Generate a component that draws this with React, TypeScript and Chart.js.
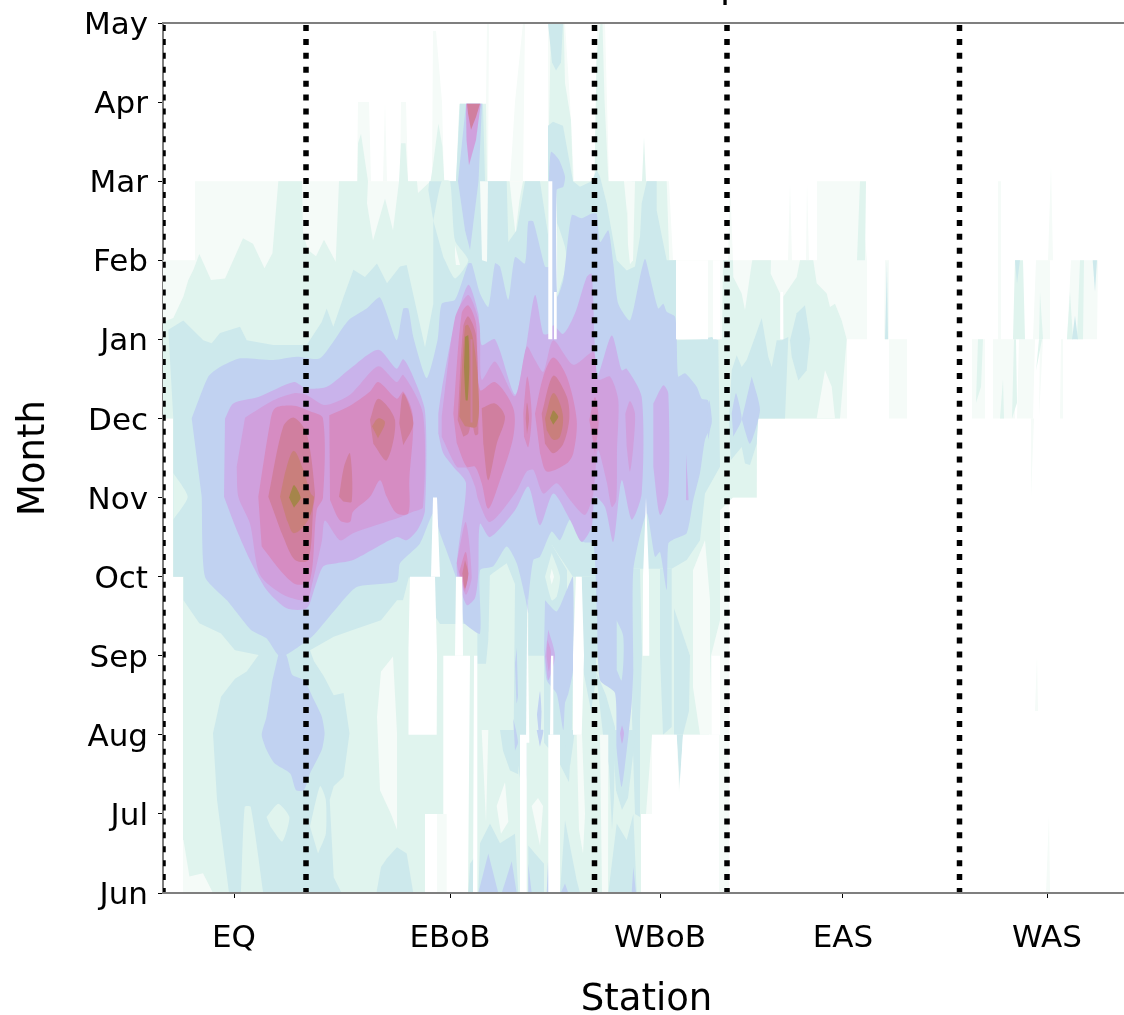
import React, { useEffect, useRef } from "react";
import { Chart, registerables } from "chart.js";

Chart.register(...registerables);

const months = ["Jun", "Jul", "Aug", "Sep", "Oct", "Nov", "Dec", "Jan", "Feb", "Mar", "Apr", "May"];
const stationLabels = ["EQ", "EBoB", "WBoB", "EAS", "WAS"];
const stationTicks = [7.1, 28.7, 49.7, 68, 88.4];
const regionBounds = [0, 14.3, 43.15, 56.4, 79.65];

const colorL1 = "#f5fbf8";
const colorL2 = "#e0f4ee";
const colorL3 = "#cde9ec";
const colorL4 = "#c1d2f1";
const colorL5 = "#c9b3eb";
const colorL6 = "#d0a0dd";
const colorL7 = "#d68cc2";
const colorL8 = "#d07f9f";
const colorL9 = "#c97f7c";
const colorL10 = "#a5854a";

// Contour regions: flat x,y lists, x in station number, y in months since June.
const level1 = [
  [2,0, 2,4, 1,4, 1,6, 0,6, 0,8, 3.2,8, 3.2,9, 50.6,9, 51,8, 56.5,8, 56.7,9, 57,8, 62.5,8, 62.7,9, 62.9,8, 64.3,8, 64.4,9, 64.6,8, 65.4,8, 65.4,9, 69.7,9, 70.4,8, 70.4,7, 68.4,7, 68.4,6, 59.4,6, 59.4,5, 56.6,5, 56.6,0],
  [19.4,9, 19.5,10, 20.6,10, 20.8,9], [22,9, 22.2,10, 22.4,9], [23.7,9, 23.8,10, 24.3,10, 24.5,9],
  [26.9,9, 27,10.9, 27.3,10.9, 27.9,10, 28.1,9], [32.2,9, 32.4,11, 32.6,11, 32.5,9],
  [34.7,9, 35.2,10, 36,11, 36.2,11, 36.1,10, 36,9], [38.5,9, 38.5,11, 40.2,11, 40.7,10, 41.1,9], [43.2,9, 43.4,11, 44.2,11, 44.6,9],
  [72.6,6, 72.6,7, 74.4,7, 74.4,6], [72.1,7, 72.2,8, 72.6,8, 72.6,7],
  [83.4,7, 83.5,9, 83.8,9, 83.8,7], [87,7, 87.3,8, 88.7,8, 88.7,7], [88.5,8, 88.8,9.2, 89,8], [90.4,7, 90.8,8, 93.5,8, 93.4,7],
  [80.9,6, 80.9,7, 82.2,7, 82.2,6], [83,6, 83,7, 85.2,7, 85.2,6], [85.4,6, 85.6,7, 87.2,7, 87,6], [87.6,6, 87.7,7, 88,7], [89.7,6, 89.8,7, 90,7, 90,6],
  [86.8,5, 86.8,6, 87.1,6], [87.2,2.3, 87.4,3, 87.5,2.3], [88.3,0, 88.6,1, 88.7,0],
];

const level2 = [
  [5,0, 4,0.25, 2.64,0.21, 2.05,0.67, 2,4, 1,4, 1,6, 0,6, 0,7.22, 1.03,7.27, 2.03,7.54, 2.53,7.75, 3.04,7.88, 3.63,8.08, 4.2,7.92, 4.8,7.75, 6.2,7.77, 7.2,8.05, 8,8.28, 9,8.21, 10.15,7.9, 10.94,8.09, 11.53,9, 13.9,9, 14,8.34, 14.5,8.13, 15.3,8.05, 16.1,8.26, 17.27,7.98, 17.6,9, 19.44,9, 19.5,9.48, 19.8,9.6, 20.5,9, 20.4,8.72, 21,8.25, 22.2,8.78, 23,8.38, 23.6,9, 23.8,9.48, 24.26,9.48, 24.5,9, 25.4,9, 25.5,8.85, 26.75,9, 26.95,9.16, 27.54,9.73, 27.94,9.44, 28.13,9, 29.3,9, 29.64,9.98, 32.3,9.98, 32.4,9, 34.66,9, 34.86,8.76, 35.25,8.34, 35.64,8.76, 36,9, 38.5,9, 38.6,9.73, 38.8,11, 40.07,11, 40.2,10.24, 40.8,9.77, 41,9, 43.15,9, 43.35,10.57, 43.75,11, 43.95,11, 44.15,10.03, 44.54,9, 46.1,9, 46.4,8.59, 46.9,9, 47.9,9, 48.1,9.56, 48.3,9, 50.37,9, 50.63,8, 51.3,8, 51.3,7, 55.9,7, 56,8, 57,8, 57.03,7.79, 57.87,7.58, 58.2,7.37, 58.87,7.96, 58.93,8, 60.8,8, 60.77,7.83, 61.7,7.58, 61.7,7, 62.03,7, 62.03,7.54, 63.37,7.79, 63.7,8, 65.03,8, 65.37,7.71, 66.37,7.58, 66.7,7.41, 67.2,7.45, 67.87,7.24, 68.37,7, 67.7,6, 59.4,6, 59.37,5, 57,5, 55.7,4.84, 55.7,3.45, 54.8,3, 54.6,2, 48.9,2, 48.3,1, 48,0],
  [70.2,8, 70.3,9, 69.7,9, 69.4,8], [85,7, 85.2,8, 86,8, 86.2,7], [87.6,7, 87.7,7.6, 88,7], [90.4,7, 90.7,7.6, 91,7], [91.4,7, 91.7,8, 92.1,8, 92,7], [83.7,6, 84,6.5, 84.1,6], [81.3,6.2, 81.5,7, 82,7, 81.8,6.4], [84.9,6, 85.1,7, 85.3,7, 85.4,6.2],
  [87.3,6.6, 87.6,7, 87.9,7],
];

const level3 = [
  [6.6,0, 5.4,1.18, 5,2.02, 5.8,2.48, 7.2,2.71, 8.37,2.8, 9.56,3.01, 7.2,3.07, 5.8,3.28, 3.63,3.41, 2.05,3.7, 2.05,4, 1.03,4, 1.03,6, 0.53,7.12, 2.03,7.24, 4.03,6.99, 4.87,6.95, 5.7,7.08, 7.7,7.16, 8.37,6.99, 11.03,6.93, 14.37,6.93, 15.87,7.22, 16.37,7.39, 17.03,7.16, 18.06,7.54, 19.04,7.88, 20.2,7.79, 21.4,7.96, 22.4,7.71, 23.7,7.92, 24.37,7.94, 25.37,7.37, 26.2,6.9, 27.03,7.45, 27.03,8.5, 26.53,8.89, 26.63,9, 29.3,9, 29.7,9.98, 32,9.98, 32.2,9, 34.37,9, 34.53,8.23, 35.37,8.38, 36.2,9, 37.7,9, 38.53,8.3, 38.5,9, 38.5,9.7, 39,9.75, 40,9.7, 41,9, 41.7,8.93, 42.87,9, 43.37,9.14, 43.7,9.06, 44.37,8.72, 45.37,8, 46.37,7.87, 47.2,7.92, 47.7,8.3, 47.87,8.72, 48.37,9, 49.37,9, 49.37,8.63, 50.37,8, 51.3,8, 51.3,7.5, 51.37,6.99, 53.7,7, 54.87,7.03, 55.53,6.99, 55.7,5.39, 54.2,5.05, 53.7,4.46, 52.37,4.21, 50.87,4.1, 47.03,4.1, 47,3, 43.3,3, 43.2,4, 41,4, 38.9,4.4, 36.53,3.7, 35.37,3.85, 34.37,4.17, 33.03,4.05, 32.53,4, 32.53,3.3, 31.43,3.3, 31,3.4, 27.7,3.4, 24.6,4, 24,3.7, 23.4,3.7, 21.8,3.45, 19.04,3.33, 17.07,3.24, 14.7,3.07, 15.1,2.93, 16.08,2.74, 17.07,2.5, 18.06,2.53, 18.65,2.02, 18.06,1.47, 17.07,1.35, 16.67,1.18, 17.07,0.2, 17.86,0],
  [38.5,11, 40,11, 39.8,10.5, 39.3,10.4, 38.9,10.5],
  [56.77,5.47, 56.6,6, 56.87,6.61, 57.37,6.8, 57.87,6.65, 58.37,6.74, 59.2,7.03, 59.87,7.27, 60.53,6.78, 60.87,6.65, 61.37,6.99, 61.87,6.99, 62.53,7.03, 62.2,6, 59.53,6, 59.37,5.68, 58.7,5.41, 58.2,5.43, 57.87,5.64],
  [62.7,6.99, 63.37,7.33, 64.2,7.43, 64.7,7.01, 64.37,6.61, 63.53,6.48, 62.87,6.78],
  [21.34,0, 21.8,0.33, 22.4,0.44, 23.4,0.58, 24.37,0.5, 25.03,0],
  [30.53,0, 30.7,0.37, 31.2,0.46, 31.2,0],
  [31.53,0, 31.7,0.63, 32.7,0.88, 33.7,0.63, 35.2,0.75, 35.53,0],
  [36.53,0, 36.53,0.6, 37.2,0.5, 38.1,0.37, 38.1,0],
  [39.7,0, 40.2,0.92, 41.37,0.16, 41.7,0],
  [44.53,0, 45.37,0.88, 46.37,0.67, 47.03,1, 47.37,0],
  [31.43,4.08, 32.7,4.08, 32.53,3.2, 32.3,2.9, 31.43,2.9],
  [35.2,3.9, 36.4,3.9, 36.4,1.5, 36,1.2, 35.4,1.7, 35.05,1.8],
  [36.53,4.08, 38.9,4.4, 40.4,4.08, 40.4,3.6, 38.1,3, 36.53,3],
  [38.1,3.1, 38.1,1.9, 39.4,1.7, 40.6,1.4, 40.9,2.1, 41,3],
  [41.9,4, 43.3,4, 43.3,2.7, 42.8,2.3, 41.9,2.9],
  [43.3,2.8, 44.3,2.5, 45.2,2.1, 45.1,1.2, 44.9,0.8, 44.6,1.6, 44,2],
  [47,4.1, 47.7,4.1, 47.9,3, 47.7,2.2, 47.7,0.96, 47.2,1, 46.9,2.2],
  [49.7,4.1, 50.87,4.1, 50.87,2.1, 50,2, 49.7,3],
  [51.1,3.6, 52.7,3, 52.6,2.3, 52,2, 51.1,2],
  [33.7,2.06, 35.53,2.06, 35.53,1.5, 34.7,1.55, 34,1.8],
  [39.87,2.06, 41.2,2.06, 40.7,1.6],
  [44.9,2.06, 47.3,2.06, 46.5,1.2, 45.9,1.05, 45.3,1.3],
  [51.37,2, 52,2, 51.7,1.3],
  [72.2,7, 72.4,8, 72.5,7], [85.2,8, 85.7,8, 85.4,7.7], [92.97,8, 93.4,8, 93.2,7.6], [90.9,7, 91.2,7.3, 91.5,7],
];

const level2Patches = [
  [7.8,0, 8.17,1.09, 8.77,1.09, 10.03,0],
  [10.35,0.96, 11.53,1.13, 12.64,0.96, 11.93,0.65, 10.74,0.84],
  [14.7,0.84, 15.7,1.35, 16.28,1.18, 16.28,0.75, 15.5,0.5],
  [1.03,5.31, 2.47,5.01, 1.03,4.72],
  [38.87,4.3, 39.7,4, 39.37,3.75, 38.87,3.7, 38.2,4],
  [27.03,8.5, 27.87,9, 28.7,9, 29.2,8.25, 30.53,8, 29.2,7.77, 28.03,8.04],
  [39.43,8.47, 40.2,8.17, 40.37,7.96, 39.7,7.66, 39.43,7.54],
];

const level1Patches = [
  [38.87,4.1, 39.1,4, 38.87,3.9, 38.7,4],
  [65.37,6, 66.2,6.61, 66.87,6.4, 67.2,6],
  [53,4.08, 54.2,4.46, 54.7,3.7, 54.7,2, 53.7,2, 53,2.6],
  [21.4,2.23, 21.8,2.8, 23,2.99, 23.4,2.02, 23.4,0.8, 22.8,1, 21.7,1.3],
  [27.4,0, 27.4,1, 28.4,1, 28.4,0],
  [33.37,1.1, 34.2,1.4, 34.53,0.9, 33.8,0.75],
  [31.87,2.06, 32.53,2.06, 32.3,0.9, 32.2,0.9],
  [36.87,1.1, 37.5,1.2, 38,1.1, 37.7,0.6],
  [41.37,2, 41.9,2, 42.2,1, 42,0.5, 41.6,0.8],
  [43.7,2, 44.53,2, 44.5,0, 43.9,0],
  [29.2,8.19, 29.7,7.94, 29.3,7.94, 29.2,8.05],
  [46.37,9, 47.2,9, 47,8, 46.7,7.95, 46.5,8.2],
  [38.93,7.6, 38.93,9, 39.3,9, 39.43,8.3, 39.43,7.6],
  [31.7,9, 32.5,9, 32.4,7.98, 31.9,8],
];

const level4 = [
  [2.87,6, 4.53,6.53, 5.7,6.65, 7.7,6.76, 11.03,6.74, 13.37,6.78, 15.7,6.76, 18.53,7.24, 20.37,7.39, 21.7,7.53, 23.37,6.99, 24.03,7.39, 24.53,7.39, 25.03,7.03, 26.37,6.51, 27.47,7, 27.87,7.45, 29.2,7.5, 30.53,7.96, 30.87,7.96, 31.7,7.58, 32.53,7.41, 33.2,7.96, 33.7,7.92, 34.53,7.5, 35.2,8.04, 36.2,7.96, 36.53,8.49, 37.03,8.49, 38.2,7.92, 38.6,7.92, 38.6,9, 38.8,9.37, 39.6,9.27, 40.2,9.06, 40.03,8.93, 39.37,8.89, 39.43,7.54, 40.03,7.75, 40.87,8.57, 41.87,8.53, 42.87,8.59, 43.37,8.59, 43.7,8.23, 44.53,8.38, 45.03,7.96, 45.53,7.45, 46.7,7.24, 47.7,7.79, 48.2,8.02, 48.7,7.79, 49.53,7.39, 50.03,7.45, 50.37,7.35, 51.2,7.29, 51.37,7, 51.53,6.53, 52.2,6.57, 53.37,6.4, 53.87,6.25, 54.5,6.23, 54.87,5.94, 54.2,5.73, 53.7,5.31, 53.03,4.97, 52.37,4.55, 51.2,4.48, 50.53,4.42, 50.37,3.83, 49.7,4.31, 49.2,4.25, 48.37,4.8, 47.03,4.08, 47.03,2.82, 46.87,2.4, 46.53,1.98, 45.87,1.34, 45.37,1.81, 45.2,2.53, 43.7,2.69, 43.4,3.5, 43.03,4.42, 41.87,4.44, 40.7,4.72, 39.7,4.46, 38.87,4.57, 37.7,4.25, 37.03,4.21, 36.53,3.7, 36.53,3.54, 36.2,3.75, 35.37,4.17, 34.37,4.38, 33.03,4.13, 31.7,4.08, 31.7,3.28, 30.1,3.41, 30.03,3.45, 29.37,3.96, 27.7,4.55, 27.03,4.8, 25.7,4.42, 23.7,4.17, 23.37,3.94, 19.37,3.87, 17.07,3.56, 14.9,3.24, 12.3,3.01, 11.5,3.01, 10.35,3.22, 8.77,3.33, 6.4,3.7, 4.2,4, 3.87,5.01],
  [11.53,3.01, 12.32,3.01, 12.92,2.76, 14.1,2.69, 15.1,2.44, 15.88,2.23, 16.16,2.02, 15.88,1.81, 14.7,1.51, 14.1,1.3, 13.3,1.3, 12.72,1.51, 11.14,1.64, 10.35,1.81, 9.87,2, 10.35,2.23, 10.94,2.69],
  [38.2,3.7, 39.37,3.56, 40.37,3.83, 41,4, 41,2.82, 40.53,2.52, 40.2,2.4, 40.03,2.06, 39.37,2.52, 38.37,2.69, 38.1,3.07],
  [35.37,3.1, 35.5,2.5, 35.37,2.4, 35.2,2.9],
  [37.4,2.25, 37.7,2.55, 37.85,2.3, 37.7,1.85],
  [35.03,2.2, 35.3,2.06, 35.5,1.9, 35.2,1.8],
  [37.37,2.06, 38.03,2.06, 37.7,1.85],
  [58.87,6.53, 59.7,6.11, 58.7,5.68, 57.87,5.99], [56.87,6.06, 57.3,6.32, 57.87,5.99, 57.03,5.77], [54.37,5.98, 54.63,6.23, 54.87,6, 54.53,5.73],
];

// Straight-edged periwinkle regions: the Apr column and the mounds on the Jun axis.
const level4Edges = [
  [30.3,9.98, 31.9,9.98, 31.55,9, 30.7,8.13, 30.2,8.38, 29.5,9],
  [31.53,0, 32.53,0.5, 33.53,0], [33.87,0, 34.87,0.4, 35.37,0], [36.53,0, 36.53,0.37, 36.87,0], [38.37,0, 38.5,0.4, 38.7,0], [39.77,0, 40.2,0.12, 40.53,0], [46.87,0, 47.03,0.33, 47.3,0],
];

const level3Holes = [
  [45.37,3.45, 46.03,3.24, 45.87,2.69, 45.37,2.82],
];

const level5 = [
  [6.2,6, 7.03,6.19, 9.53,6.27, 13.1,6.46, 14.3,6.38, 16.37,6.4, 18.7,6.63, 21.53,6.87, 23.37,6.63, 24.03,6.75, 24.87,6.57, 26.2,6.09, 26.2,4.84, 25.53,4.61, 24.37,4.46, 23.37,4.5, 19.03,4.21, 17.37,4.17, 16.03,4.13, 15.2,3.87, 14.37,3.6, 12.37,3.6, 10.37,3.83, 8.7,4.21, 7.37,4.59, 6.1,5.01],
  [27.53,6.06, 27.87,6.36, 29.03,7.12, 30.53,7.69, 31.53,7.33, 31.87,6.93, 33.2,7, 35.2,6.3, 36.2,6.82, 37.2,7.56, 38.03,7.07, 38.53,7.07, 39.03,7.18, 40.03,7.07, 41.2,7.33, 42.37,7.79, 42.87,7.83, 43.15,7, 43.43,6.53, 44.87,7.05, 45.87,6.61, 46.37,6.63, 47.87,6.27, 47.87,5.05, 46.87,4.72, 45.87,5.22, 45.03,4.44, 44.2,4.88, 43.2,5.01, 42.87,4.63, 41.87,4.44, 40.7,4.72, 39.03,5.05, 37.7,4.65, 36.53,5.14, 35.2,4.84, 32.7,4.5, 31.7,4.67, 31.53,4.04, 31.2,3.73, 30.37,3.64, 29.37,4.08, 30.3,5.18, 29.03,5.39, 28.03,5.56, 27.53,5.81],
  [49.03,6.19, 50.03,6.42, 50.53,6.32, 50.53,5.05, 49.7,4.78, 49.03,5.39],
  [52.3,5.55, 52.55,4.97, 52.3,4.97],
  [38.53,3.33, 39.2,3, 38.53,2.69, 38.2,2.99],
  [45.9,2.12, 46.1,2.02, 45.9,1.89, 45.7,2.02],
];

const level6 = [
  [8.2,6.01, 11.03,6.23, 13.1,6.32, 14.3,6.3, 16.2,6.17, 18.7,6.3, 21.53,6.66, 23.37,6.46, 24.03,6.55, 26,6.06, 26,4.88, 25,4.82, 23.7,4.75, 19,4.55, 17.7,4.46, 16.2,4.71, 15.9,4.46, 14.9,3.9, 14.37,3.7, 12.03,3.77, 9.7,4.02, 8.7,4.67, 7.53,5.01, 7.37,5.39],
  [27.87,6.02, 29.2,7.27, 30.53,7.56, 31.63,7.2, 31.87,6.49, 33.2,6.72, 35.2,6.28, 36.37,6.91, 37.2,6.74, 38.03,6.59, 39.03,6.99, 41.03,6.68, 43.03,6.84, 43.53,6.49, 44.7,6.53, 45.53,6.23, 45.4,5.6, 45.33,4.97, 44.87,4.88, 44.37,5.2, 43.5,5.6, 43.03,5.05, 42.2,4.78, 40.7,4.97, 39.37,5.18, 38.03,5.05, 37.03,5.35, 36.37,5.33, 35.2,5.05, 32.7,4.69, 31.53,4.97, 31.2,5.14, 30.37,5.37, 29.37,5.39, 27.87,5.77],
  [46.23,6.06, 46.7,6.22, 47.2,6.06, 47.03,5.64, 46.7,5.33, 46.37,5.64],
  [29.37,4.17, 30.27,4.69, 30.87,4, 30.3,3.77, 29.7,3.96],
  [38.45,3.2, 38.8,3.05, 38.6,2.8, 38.35,3],
];

const level7 = [
  [9.53,5.01, 10.7,5.94, 11.2,6.13, 13.1,6.16, 14.7,6.09, 16,6, 16,5, 15.37,4.84, 14.7,3.95, 13.37,3.9, 12,4.04, 9.87,4.38],
  [16.63,6.04, 18.7,6.16, 20.7,6.34, 21.53,6.46, 23.37,6.25, 24.03,6.34, 25,6.02, 24.63,5.22, 24.53,4.8, 23.37,4.8, 22.37,5.01, 21.7,5.22, 20.7,5.01, 19,4.82, 18.7,4.69, 17.7,4.71, 16.7,4.97],
  [29.03,6.06, 29.87,7.33, 30.53,7.43, 31.3,7.2, 31.7,6.36, 33.2,6.46, 35.03,6.13, 35.03,5.77, 33.7,5.22, 32.53,4.86, 31.87,5.18, 31.2,5.39, 30.37,5.39, 29.37,5.69],
  [36.03,6.06, 36.43,6.53, 36.87,6.06, 36.53,5.64, 36.1,5.77],
  [37.2,6.06, 38.03,6.53, 39.03,6.77, 40.37,6.53, 41.37,5.98, 41.03,5.56, 40.37,5.43, 38.37,5.33, 37.7,5.56],
  [42.63,5.98, 43.2,6.27, 43.57,5.98, 43.2,5.56],
  [29.63,4.06, 30.27,4.31, 30.53,4.04, 30.2,3.81],
];

const level8 = [
  [10.53,5.01, 12.03,5.9, 13.1,6.01, 14.37,5.81, 15.2,5.05, 15.03,4.88, 14.53,4.21, 13.2,4.21, 12.03,4.5, 11.03,4.84],
  [20.7,5.98, 21.53,6.25, 23.2,5.98, 22.37,5.47, 21.03,5.68],
  [23.63,5.94, 24.03,6.32, 25.03,5.94, 24.03,5.66],
  [17.6,5.01, 18.1,5.39, 18.7,5.56, 18.87,4.95, 18.03,4.95],
  [29.47,5.98, 30.03,7.16, 30.53,7.29, 31.3,7.05, 31.53,5.81, 31.2,5.79, 30.87,5.98, 30.53,5.81, 30.03,5.77],
  [31.87,6.13, 33.2,6.19, 34.2,6.02, 33.37,5.68, 32.53,5.22, 32.03,5.68],
  [37.87,6.06, 39.03,6.54, 40.37,6.28, 40.63,6, 40.03,5.68, 39.03,5.56, 38.2,5.68],
  [36.27,6, 36.4,6.2, 36.6,6, 36.4,5.8],
  [30.2,4.21, 30.53,4.04, 30.2,3.85, 29.93,4.04],
];

// Straight-edged tops of the April column.
const level6Edges = [[30.3,9.98, 31.77,9.98, 31.3,9.52, 30.6,9.2, 30.35,9.52]];
const level8Edges = [[30.4,9.98, 31.7,9.98, 31.3,9.81, 30.8,9.65, 30.5,9.86]];

const level9 = [
  [11.7,5.01, 12.37,5.39, 13.1,5.59, 14.03,5.35, 14.77,5.05, 15.1,5, 14.53,4.72, 13.1,4.55, 12.37,4.72],
  [29.63,6.02, 30.2,7.16, 30.53,7.18, 31.03,6.99, 31.53,6.4, 31.37,5.9, 30.2,5.9],
  [38.2,6, 39.03,6.32, 39.97,6.06, 39.7,5.77, 39.03,5.73, 38.37,5.85],
  [20.9,5.9, 21.5,6, 22.2,5.95, 21.5,5.75],
];

const level8Slits = [[30.75,7, 30.95,7, 30.95,5.95, 30.75,5.95]];

const level10 = [
  [12.6,5, 13.1,5.16, 13.77,5, 13.1,4.87],
  [30.2,7.03, 30.53,7.05, 30.63,6.65, 30.47,6.23, 30.27,6.23, 30.1,6.65],
  [38.7,6, 39.03,6.1, 39.53,6.02, 39.03,5.92],
];

// Stations with no data in the given months.
const gaps = [
  [24.55,2, 24.55,3.1, 24.7,4, 27.2,4, 27.4,3, 27.37,2],
  [26.2,0, 26.2,1, 27.4,1, 27.4,0],
  [28.37,0, 28.37,1, 28.03,1, 28.03,3, 30.7,3, 30.5,0],
  [26.8,4, 27,5, 27.4,5, 27.7,4], [29.2,3, 29.3,4, 29.93,4, 30,3],
  [41,2, 41,3, 41.3,4, 41.87,4, 42.1,3, 41.87,2],
  [36.3,1.9, 36.43,3.75, 36.63,1.9],
  [47.97,3, 48,4, 48.3,5, 48.6,4, 48.63,3], [38.53,7, 38.53,9, 38.93,9, 38.93,7], [39.1,7, 39.1,7.6, 39.37,7.6, 39.37,7],
  [51.3,7, 51.3,8, 54.5,8, 54.5,7], [55,7, 55,8, 55.7,8, 55.7,7],
  [48.9,0, 48.9,2, 51.37,2, 51.6,1.25, 52,2, 54.7,2, 54.7,0], [54.87,2, 54.87,3, 55.7,3, 55.7,2], [54.6,0, 54.6,2, 55.6,2, 55.6,0],
  [35.7,0, 35.7,2, 36.37,2, 36.37,0], [38.53,0, 38.53,2, 39.7,2, 39.7,0], [38.7,2, 38.8,3, 39.03,3, 39.03,2],
  [31,0, 31.1,3, 31.43,3, 31.43,0],
  [47.8,0, 47.8,1, 55.6,1, 55.6,0], [61.7,7, 61.75,7.6, 62,7.6, 62.03,7],
];

function polygonDatasets(color: string, polygons: number[][], tension: number) {
  return polygons.map((flat) => {
    const data: { x: number; y: number }[] = [];
    for (let i = 0; i < flat.length; i += 2) data.push({ x: flat[i], y: flat[i + 1] });
    return {
      type: "scatter" as const,
      data,
      showLine: true,
      fill: "shape",
      backgroundColor: color,
      borderColor: color,
      borderWidth: 0,
      pointRadius: 0,
      pointHoverRadius: 0,
      tension,
    };
  });
}

const tickFont = { family: "'DejaVu Sans'", size: 31 };
const titleFont = { family: "'DejaVu Sans'", size: 37, lineHeight: 0.8 };

export default function App() {
  const ref = useRef<HTMLCanvasElement>(null);
  useEffect(() => {
    const layers: [string, number[][], number][] = [
      [colorL1, level1, 0], [colorL2, level2, 0], [colorL3, level3, 0], [colorL2, level2Patches, 0.2], [colorL1, level1Patches, 0],
      [colorL4, level4, 0.2], [colorL4, level4Edges, 0], [colorL3, level3Holes, 0.3], [colorL5, level5, 0.25], [colorL6, level6, 0.25],
      [colorL6, level6Edges, 0], [colorL7, level7, 0.3], [colorL8, level8, 0.3], [colorL8, level8Edges, 0],
      [colorL9, level9, 0.35], [colorL8, level8Slits, 0], [colorL10, level10, 0.2], ["#ffffff", gaps, 0],
    ];
    const fills = layers.flatMap(([c, p, t]) => polygonDatasets(c, p, t));
    const dividers = regionBounds.map((x) => ({
      type: "scatter" as const,
      data: [{ x, y: 11 }, { x, y: 0 }],
      showLine: true,
      fill: false,
      borderColor: "#000000",
      borderWidth: 5.5,
      borderDash: [6, 7.92],
      borderDashOffset: -2,
      pointRadius: 0,
    }));
    const all: any[] = [...fills, ...dividers];
    all.forEach((d, i) => (d.order = all.length - i));

    const frame = {
      id: "frame",
      afterDraw(chart: any) {
        const { ctx, chartArea, scales } = chart;
        ctx.save();
        ctx.strokeStyle = "#7f7f7f";
        ctx.lineWidth = 2;
        ctx.beginPath();
        ctx.moveTo(chartArea.left, chartArea.top);
        ctx.lineTo(chartArea.right, chartArea.top);
        ctx.moveTo(chartArea.left - 1, chartArea.bottom);
        ctx.lineTo(chartArea.right, chartArea.bottom);
        ctx.stroke();
        ctx.fillStyle = "#000";
        ctx.font = "37px 'DejaVu Sans'";
        ctx.textBaseline = "alphabetic";
        ctx.fillText("p", scales.x.getPixelForValue(55.7), chartArea.top - 26);
        ctx.restore();
      },
    };

    const chart = new Chart(ref.current!, {
      data: { datasets: all },
      plugins: [frame],
      options: {
        animation: false,
        responsive: false,
        devicePixelRatio: 1,
        layout: { padding: { top: 23, right: 0, left: 0, bottom: 0 } },
        plugins: { legend: { display: false }, tooltip: { enabled: false }, title: { display: false } },
        scales: {
          x: {
            type: "linear",
            min: 0,
            max: 96.7,
            afterFit: (s: any) => { s.height = 122; s.paddingLeft = 0; s.paddingRight = 0; },
            afterBuildTicks: (s: any) => { s.ticks = stationTicks.map((value) => ({ value })); },
            grid: { drawOnChartArea: false, drawTicks: true, tickLength: 5, tickColor: "#000", tickWidth: 1 },
            border: { color: "#7f7f7f", width: 2 },
            ticks: {
              autoSkip: false, maxRotation: 0, color: "#000", font: tickFont, padding: 22,
              callback: (_v: any, i: number) => stationLabels[i],
            },
            title: { display: true, text: "Station", color: "#000", font: titleFont, padding: { top: 0, bottom: 0 } },
          },
          y: {
            type: "linear",
            min: 0,
            max: 11,
            afterFit: (s: any) => { s.width = 163; s.paddingTop = 0; s.paddingBottom = 0; },
            afterBuildTicks: (s: any) => { s.ticks = months.map((_m, value) => ({ value })); },
            grid: { drawOnChartArea: false, drawTicks: true, tickLength: 5, tickColor: "#000", tickWidth: 1 },
            border: { color: "#7f7f7f", width: 2 },
            ticks: {
              autoSkip: false, color: "#000", font: tickFont, padding: 10, labelOffset: 3,
              callback: (_v: any, i: number) => months[i],
            },
            title: { display: true, text: "Month", color: "#000", font: titleFont, padding: { top: 20, bottom: 0 } },
          },
        },
      },
    } as any);
    return () => chart.destroy();
  }, []);
  return (
    <div style={{ position: "absolute", left: 0, top: 0, width: 1124, height: 1015, overflow: "hidden" }}>
      <canvas ref={ref} width={1130} height={1015} style={{ width: 1130, height: 1015, display: "block" }} />
    </div>
  );
}
